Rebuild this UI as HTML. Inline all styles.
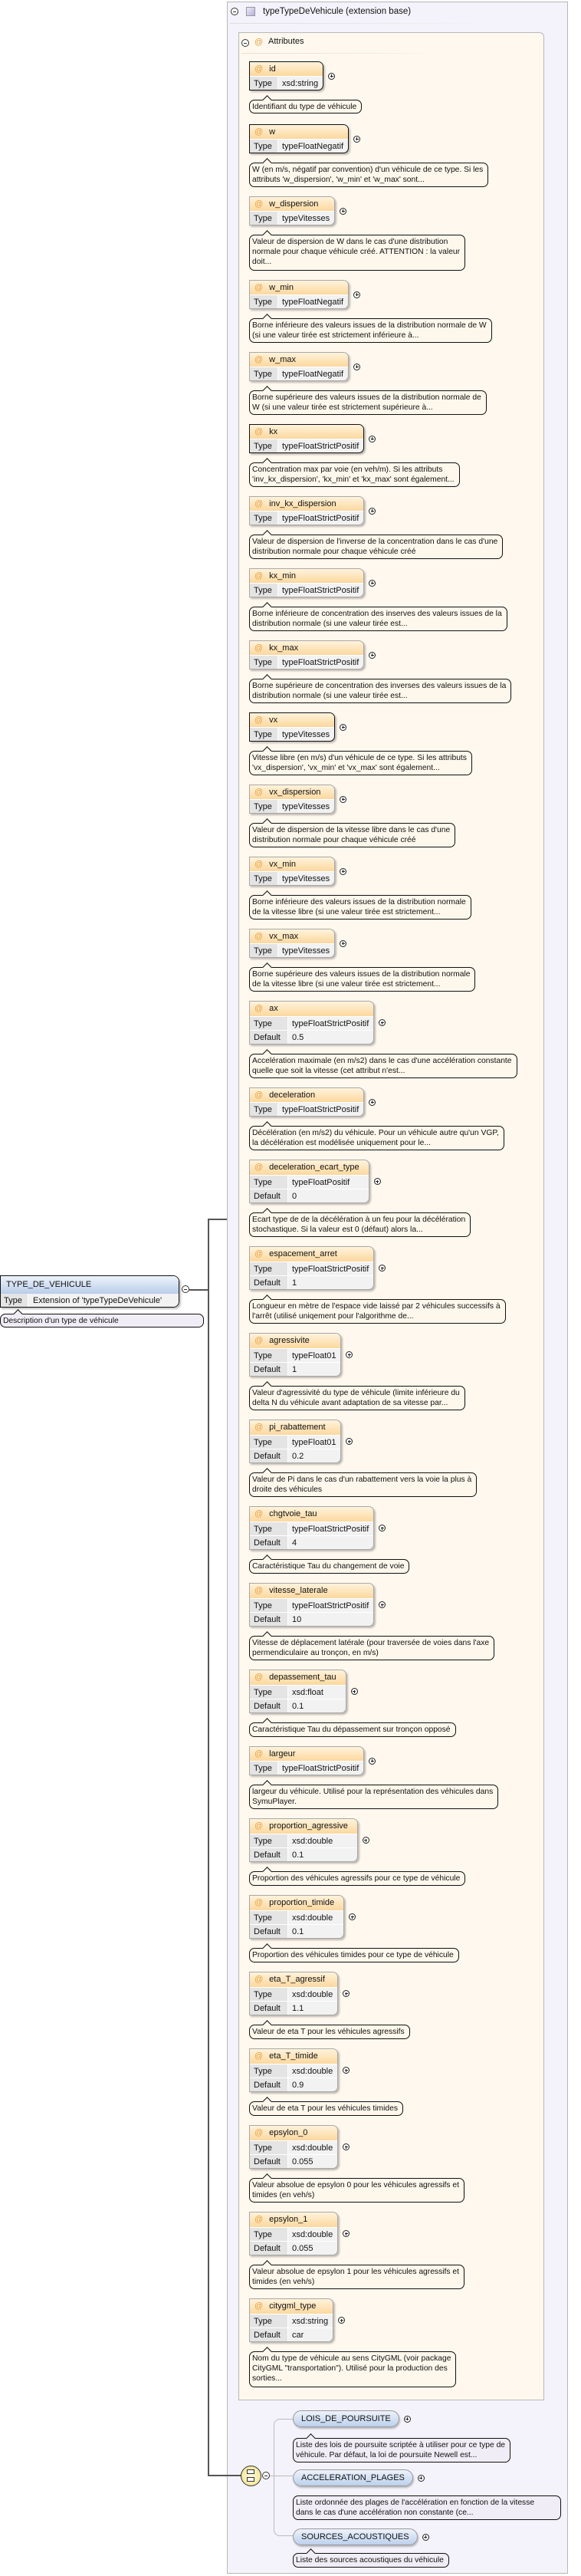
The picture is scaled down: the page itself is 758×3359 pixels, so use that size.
<!DOCTYPE html>
<html><head><meta charset="utf-8">
<style>
*{box-sizing:border-box;margin:0;padding:0}
body{width:758px;height:3359px;background:#fff;position:relative;font-family:"Liberation Sans",sans-serif;color:#111;overflow:hidden}
.abs{position:absolute}
#outer{position:absolute;left:296px;top:2px;width:445px;height:3354px;background:#f4f2fa;border:1px solid #b8b8b8}
#inner{position:absolute;left:311px;top:42px;width:399px;height:3088px;background:#fef8ee;border:1px solid #b8b8b8;border-top-right-radius:6px;padding:37px 0 0 13px}
.mc{position:absolute;width:10px;height:10px;border:1px solid #333;border-radius:50%;background:#fff}
.mc:after{content:"";position:absolute;left:2px;top:3.5px;width:4px;height:1px;background:#333}
.p{display:inline-block;position:relative;width:9px;height:9px;border:1px solid #222;border-radius:50%;background:#fff;margin-left:6px;flex:none}
.p:before{content:"";position:absolute;left:1.5px;top:3px;width:4px;height:1px;background:#222}
.p:after{content:"";position:absolute;left:3px;top:1.5px;width:1px;height:4px;background:#222}
.b{display:block;margin-bottom:12px}
.top{display:flex;align-items:center}
.bx{display:inline-block;border:1px solid #a8a8a8;border-radius:0 7px 7px 0;box-shadow:2px 2px 2px rgba(0,0,0,.25);overflow:hidden;font-size:11px;background:#f2f2f2}
.bx.r{border-color:#111}
.h{height:18px;line-height:18px;background:linear-gradient(#fff3dc,#fcd89e);padding-left:6px;white-space:nowrap;padding-right:12px}
.h i{font-style:normal;color:#e8a040;margin-right:8px}
.rw{display:flex;height:18px;line-height:18px;white-space:nowrap}
.l{background:#e4e4e4;padding-left:5px;border-right:1px solid #fff}
.v{padding:0 6px 0 5px;flex:1}
.t3 .h{height:19px;line-height:19px}
.t3 .rw{border-top:1px solid #fff}
.t2 .rw{border-top:1px solid #fff;height:18px}
.t2 .l{width:37px}.t3 .l{width:50px}
.d{display:table;margin-top:12px;border:1px solid #111;border-radius:7px;background:#fdf7ec;font-size:10.3px;line-height:13px;padding:2px 6px 0 3px;white-space:nowrap;position:relative}
.d:before{content:"";position:absolute;left:18px;top:-5px;width:8px;height:8px;border-top:1px solid #111;border-left:1px solid #111;background:#fdf7ec;transform:rotate(45deg)}
.d1{height:19px}.d2{height:32px}.d3{height:47px}
.pw{position:absolute;display:flex;align-items:center}
.pill{height:22px;border:1px solid #999;border-radius:11px;background:linear-gradient(#eef3fb,#bcd0ec);font-size:11px;line-height:20px;padding:0 10px;box-shadow:1px 2px 2px rgba(0,0,0,.25);white-space:nowrap}
.pd{position:absolute;border:1px solid #111;border-radius:7px;background:#f0edf6;font-size:10.3px;line-height:13px;padding:2px 6px 0 3px;white-space:nowrap}
.pd:before{content:"";position:absolute;left:18px;top:-5px;width:8px;height:8px;border-top:1px solid #111;border-left:1px solid #111;background:#f0edf6;transform:rotate(45deg)}
</style></head><body>

<div class="abs" style="left:0;top:1663px;width:234px;height:42px;border:1px solid #111;border-radius:0 8px 8px 0;overflow:hidden;box-shadow:2px 2px 2px rgba(0,0,0,.25);font-size:11px">
 <div style="height:23px;line-height:23px;background:linear-gradient(#eef3fb,#b9cdea);padding-left:7px">TYPE_DE_VEHICULE</div>
 <div style="display:flex;height:18px;line-height:18px;background:#f2f2f2"><span style="width:36px;background:#e4e4e4;padding-left:4px;border-right:1px solid #fff">Type</span><span style="padding-left:6px">Extension of 'typeTypeDeVehicule'</span></div>
</div>
<div class="mc" style="left:237px;top:1676px"></div>
<div class="abs" style="left:247px;top:1681px;width:26px;height:2px;background:#555"></div>
<div class="pd" style="left:0;top:1713px;width:266px;height:18px">Description d'un type de véhicule</div>

<div class="abs" style="left:271px;top:1589px;width:2px;height:1640px;background:#555"></div>
<div class="abs" style="left:271px;top:1589px;width:41px;height:2px;background:#555"></div>

<div id="outer"></div>
<div class="mc" style="left:301px;top:10px"></div>
<div class="abs" style="left:321px;top:9px;width:12px;height:12px;border:1px solid #999;background:linear-gradient(135deg,#eeeaf8,#b8b0dc)"></div>
<div class="abs" style="left:343px;top:7px;font-size:11.5px;line-height:16px">typeTypeDeVehicule (extension base)</div>
<div class="abs" style="left:300px;top:30px;width:332px;height:1px;background:linear-gradient(90deg,#ddd,#eee 80%,transparent)"></div>

<div id="inner">
<div class="mc" style="left:3px;top:8px"></div>
<div class="abs" style="left:20px;top:6px;font-size:11px;color:#e8a040">@</div>
<div class="abs" style="left:38px;top:5px;font-size:11px">Attributes</div>
<div class="abs" style="left:3px;top:26px;width:250px;height:1px;background:linear-gradient(90deg,#e6e0d6,#f3ede3 80%,transparent)"></div>

<div class="b" style="margin-bottom:14px"><div class="top"><div class="bx r t2"><div class="h"><i>@</i>id</div><div class="rw"><span class="l">Type</span><span class="v">xsd:string</span></div></div><span class="p"></span></div><div class="d d1" style="height:18px">Identifiant du type de véhicule</div></div>

<div class="b"><div class="top"><div class="bx r t2"><div class="h"><i>@</i>w</div><div class="rw"><span class="l">Type</span><span class="v">typeFloatNegatif</span></div></div><span class="p"></span></div><div class="d d2">W (en m/s, négatif par convention) d'un véhicule de ce type. Si les<br>attributs 'w_dispersion', 'w_min' et 'w_max' sont...</div></div>

<div class="b"><div class="top"><div class="bx t2"><div class="h"><i>@</i>w_dispersion</div><div class="rw"><span class="l">Type</span><span class="v">typeVitesses</span></div></div><span class="p"></span></div><div class="d d3">Valeur de dispersion de W dans le cas d'une distribution<br>normale pour chaque véhicule créé. ATTENTION : la valeur<br>doit...</div></div>

<div class="b"><div class="top"><div class="bx t2"><div class="h"><i>@</i>w_min</div><div class="rw"><span class="l">Type</span><span class="v">typeFloatNegatif</span></div></div><span class="p"></span></div><div class="d d2">Borne inférieure des valeurs issues de la distribution normale de W<br>(si une valeur tirée est strictement inférieure à...</div></div>

<div class="b"><div class="top"><div class="bx t2"><div class="h"><i>@</i>w_max</div><div class="rw"><span class="l">Type</span><span class="v">typeFloatNegatif</span></div></div><span class="p"></span></div><div class="d d2">Borne supérieure des valeurs issues de la distribution normale de<br>W (si une valeur tirée est strictement supérieure à...</div></div>

<div class="b"><div class="top"><div class="bx r t2"><div class="h"><i>@</i>kx</div><div class="rw"><span class="l">Type</span><span class="v">typeFloatStrictPositif</span></div></div><span class="p"></span></div><div class="d d2">Concentration max par voie (en veh/m). Si les attributs<br>'inv_kx_dispersion', 'kx_min' et 'kx_max' sont également...</div></div>

<div class="b"><div class="top"><div class="bx t2"><div class="h"><i>@</i>inv_kx_dispersion</div><div class="rw"><span class="l">Type</span><span class="v">typeFloatStrictPositif</span></div></div><span class="p"></span></div><div class="d d2">Valeur de dispersion de l'inverse de la concentration dans le cas d'une<br>distribution normale pour chaque véhicule créé</div></div>

<div class="b"><div class="top"><div class="bx t2"><div class="h"><i>@</i>kx_min</div><div class="rw"><span class="l">Type</span><span class="v">typeFloatStrictPositif</span></div></div><span class="p"></span></div><div class="d d2">Borne inférieure de concentration des inserves des valeurs issues de la<br>distribution normale (si une valeur tirée est...</div></div>

<div class="b"><div class="top"><div class="bx t2"><div class="h"><i>@</i>kx_max</div><div class="rw"><span class="l">Type</span><span class="v">typeFloatStrictPositif</span></div></div><span class="p"></span></div><div class="d d2">Borne supérieure de concentration des inverses des valeurs issues de la<br>distribution normale (si une valeur tirée est...</div></div>

<div class="b"><div class="top"><div class="bx r t2"><div class="h"><i>@</i>vx</div><div class="rw"><span class="l">Type</span><span class="v">typeVitesses</span></div></div><span class="p"></span></div><div class="d d2">Vitesse libre (en m/s) d'un véhicule de ce type. Si les attributs<br>'vx_dispersion', 'vx_min' et 'vx_max' sont également...</div></div>

<div class="b"><div class="top"><div class="bx t2"><div class="h"><i>@</i>vx_dispersion</div><div class="rw"><span class="l">Type</span><span class="v">typeVitesses</span></div></div><span class="p"></span></div><div class="d d2">Valeur de dispersion de la vitesse libre dans le cas d'une<br>distribution normale pour chaque véhicule créé</div></div>

<div class="b"><div class="top"><div class="bx t2"><div class="h"><i>@</i>vx_min</div><div class="rw"><span class="l">Type</span><span class="v">typeVitesses</span></div></div><span class="p"></span></div><div class="d d2">Borne inférieure des valeurs issues de la distribution normale<br>de la vitesse libre (si une valeur tirée est strictement...</div></div>

<div class="b"><div class="top"><div class="bx t2"><div class="h"><i>@</i>vx_max</div><div class="rw"><span class="l">Type</span><span class="v">typeVitesses</span></div></div><span class="p"></span></div><div class="d d2">Borne supérieure des valeurs issues de la distribution normale<br>de la vitesse libre (si une valeur tirée est strictement...</div></div>

<div class="b"><div class="top"><div class="bx t3"><div class="h"><i>@</i>ax</div><div class="rw"><span class="l">Type</span><span class="v">typeFloatStrictPositif</span></div><div class="rw"><span class="l">Default</span><span class="v">0.5</span></div></div><span class="p"></span></div><div class="d d2">Accélération maximale (en m/s2) dans le cas d'une accélération constante<br>quelle que soit la vitesse (cet attribut n'est...</div></div>

<div class="b"><div class="top"><div class="bx t2"><div class="h"><i>@</i>deceleration</div><div class="rw"><span class="l">Type</span><span class="v">typeFloatStrictPositif</span></div></div><span class="p"></span></div><div class="d d2">Décélération (en m/s2) du véhicule. Pour un véhicule autre qu'un VGP,<br>la décélération est modélisée uniquement pour le...</div></div>

<div class="b"><div class="top"><div class="bx t3"><div class="h"><i>@</i>deceleration_ecart_type</div><div class="rw"><span class="l">Type</span><span class="v">typeFloatPositif</span></div><div class="rw"><span class="l">Default</span><span class="v">0</span></div></div><span class="p"></span></div><div class="d d2">Ecart type de de la décélération à un feu pour la décélération<br>stochastique. Si la valeur est 0 (défaut) alors la...</div></div>

<div class="b"><div class="top"><div class="bx t3"><div class="h"><i>@</i>espacement_arret</div><div class="rw"><span class="l">Type</span><span class="v">typeFloatStrictPositif</span></div><div class="rw"><span class="l">Default</span><span class="v">1</span></div></div><span class="p"></span></div><div class="d d2">Longueur en mètre de l'espace vide laissé par 2 véhicules successifs à<br>l'arrêt (utilisé uniqement pour l'algorithme de...</div></div>

<div class="b"><div class="top"><div class="bx t3"><div class="h"><i>@</i>agressivite</div><div class="rw"><span class="l">Type</span><span class="v">typeFloat01</span></div><div class="rw"><span class="l">Default</span><span class="v">1</span></div></div><span class="p"></span></div><div class="d d2">Valeur d'agressivité du type de véhicule (limite inférieure du<br>delta N du véhicule avant adaptation de sa vitesse par...</div></div>

<div class="b"><div class="top"><div class="bx t3"><div class="h"><i>@</i>pi_rabattement</div><div class="rw"><span class="l">Type</span><span class="v">typeFloat01</span></div><div class="rw"><span class="l">Default</span><span class="v">0.2</span></div></div><span class="p"></span></div><div class="d d2">Valeur de Pi dans le cas d'un rabattement vers la voie la plus à<br>droite des véhicules</div></div>

<div class="b"><div class="top"><div class="bx t3"><div class="h"><i>@</i>chgtvoie_tau</div><div class="rw"><span class="l">Type</span><span class="v">typeFloatStrictPositif</span></div><div class="rw"><span class="l">Default</span><span class="v">4</span></div></div><span class="p"></span></div><div class="d d1">Caractéristique Tau du changement de voie</div></div>

<div class="b"><div class="top"><div class="bx t3"><div class="h"><i>@</i>vitesse_laterale</div><div class="rw"><span class="l">Type</span><span class="v">typeFloatStrictPositif</span></div><div class="rw"><span class="l">Default</span><span class="v">10</span></div></div><span class="p"></span></div><div class="d d2">Vitesse de déplacement latérale (pour traversée de voies dans l'axe<br>permendiculaire au tronçon, en m/s)</div></div>

<div class="b"><div class="top"><div class="bx t3"><div class="h"><i>@</i>depassement_tau</div><div class="rw"><span class="l">Type</span><span class="v">xsd:float</span></div><div class="rw"><span class="l">Default</span><span class="v">0.1</span></div></div><span class="p"></span></div><div class="d d1">Caractéristique Tau du dépassement sur tronçon opposé</div></div>

<div class="b"><div class="top"><div class="bx t2"><div class="h"><i>@</i>largeur</div><div class="rw"><span class="l">Type</span><span class="v">typeFloatStrictPositif</span></div></div><span class="p"></span></div><div class="d d2">largeur du véhicule. Utilisé pour la représentation des véhicules dans<br>SymuPlayer.</div></div>

<div class="b"><div class="top"><div class="bx t3"><div class="h"><i>@</i>proportion_agressive</div><div class="rw"><span class="l">Type</span><span class="v">xsd:double</span></div><div class="rw"><span class="l">Default</span><span class="v">0.1</span></div></div><span class="p"></span></div><div class="d d1">Proportion des véhicules agressifs pour ce type de véhicule</div></div>

<div class="b"><div class="top"><div class="bx t3"><div class="h"><i>@</i>proportion_timide</div><div class="rw"><span class="l">Type</span><span class="v">xsd:double</span></div><div class="rw"><span class="l">Default</span><span class="v">0.1</span></div></div><span class="p"></span></div><div class="d d1">Proportion des véhicules timides pour ce type de véhicule</div></div>

<div class="b"><div class="top"><div class="bx t3"><div class="h"><i>@</i>eta_T_agressif</div><div class="rw"><span class="l">Type</span><span class="v">xsd:double</span></div><div class="rw"><span class="l">Default</span><span class="v">1.1</span></div></div><span class="p"></span></div><div class="d d1">Valeur de eta T pour les véhicules agressifs</div></div>

<div class="b"><div class="top"><div class="bx t3"><div class="h"><i>@</i>eta_T_timide</div><div class="rw"><span class="l">Type</span><span class="v">xsd:double</span></div><div class="rw"><span class="l">Default</span><span class="v">0.9</span></div></div><span class="p"></span></div><div class="d d1">Valeur de eta T pour les véhicules timides</div></div>

<div class="b"><div class="top"><div class="bx t3"><div class="h"><i>@</i>epsylon_0</div><div class="rw"><span class="l">Type</span><span class="v">xsd:double</span></div><div class="rw"><span class="l">Default</span><span class="v">0.055</span></div></div><span class="p"></span></div><div class="d d2">Valeur absolue de epsylon 0 pour les véhicules agressifs et<br>timides (en veh/s)</div></div>

<div class="b"><div class="top"><div class="bx t3"><div class="h"><i>@</i>epsylon_1</div><div class="rw"><span class="l">Type</span><span class="v">xsd:double</span></div><div class="rw"><span class="l">Default</span><span class="v">0.055</span></div></div><span class="p"></span></div><div class="d d2">Valeur absolue de epsylon 1 pour les véhicules agressifs et<br>timides (en veh/s)</div></div>

<div class="b"><div class="top"><div class="bx t3"><div class="h"><i>@</i>citygml_type</div><div class="rw"><span class="l">Type</span><span class="v">xsd:string</span></div><div class="rw"><span class="l">Default</span><span class="v">car</span></div></div><span class="p"></span></div><div class="d d3">Nom du type de véhicule au sens CityGML (voir package<br>CityGML "transportation"). Utilisé pour la production des<br>sorties...</div></div>
</div>

<div class="abs" style="left:271px;top:3227px;width:44px;height:2px;background:#555"></div>
<div class="abs" style="left:314px;top:3215px;width:27px;height:27px;border:1.5px solid #333;border-radius:50%;background:radial-gradient(#fffbe0,#f0e080)"></div>
<div class="abs" style="left:322px;top:3220px;width:10px;height:6px;border:1px solid #333;background:#fff"></div>
<div class="abs" style="left:322px;top:3230px;width:10px;height:6px;border:1px solid #333;background:#fff"></div>
<div class="mc" style="left:342px;top:3223px"></div>
<div class="abs" style="left:352px;top:3228px;width:30px;height:1px;background:#bbb"></div>
<div class="abs" style="left:357px;top:3154px;width:26px;height:153px;border:1px solid #bbb;border-right:none;border-radius:8px 0 0 8px"></div>

<div class="pw" style="left:382px;top:3143px"><div class="pill">LOIS_DE_POURSUITE</div><span class="p"></span></div>
<div class="pd" style="left:382px;top:3179px;height:32px">Liste des lois de poursuite scriptée à utiliser pour ce type de<br>véhicule. Par défaut, la loi de poursuite Newell est...</div>
<div class="pw" style="left:382px;top:3220px"><div class="pill">ACCELERATION_PLAGES</div><span class="p"></span></div>
<div class="pd" style="left:382px;top:3254px;height:32px;width:350px;overflow:hidden">Liste ordonnée des plages de l'accélération en fonction de la vitesse<br>dans le cas d'une accélération non constante (ce...</div>
<div class="pw" style="left:382px;top:3297px"><div class="pill">SOURCES_ACOUSTIQUES</div><span class="p"></span></div>
<div class="pd" style="left:382px;top:3329px;height:19px">Liste des sources acoustiques du véhicule</div>

</body></html>
